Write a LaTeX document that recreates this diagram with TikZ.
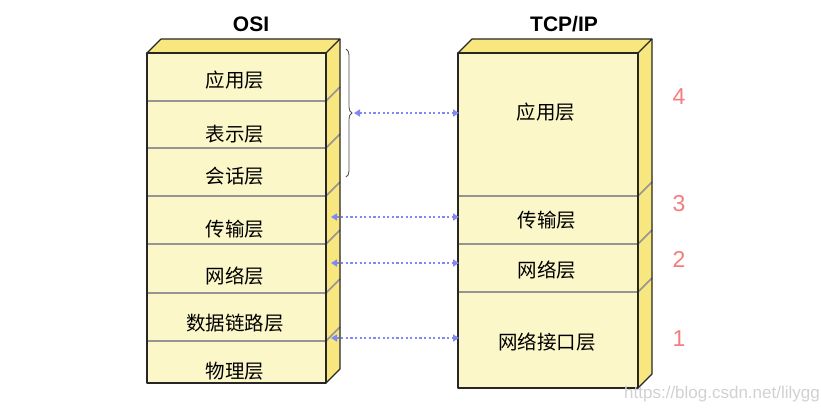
\documentclass[tikz,border=0pt]{standalone}
\usepackage{fontspec}
\setmainfont{Liberation Sans}
\newfontfamily\cjk{Noto Sans CJK SC}
\usetikzlibrary{positioning}
\usetikzlibrary{decorations.pathreplacing}
\usetikzlibrary{arrows.meta}
\usepackage{xcolor}

\definecolor{frontyel}{HTML}{FBF7C9}
\definecolor{sideyel}{HTML}{F8E77F}
\definecolor{divgray}{HTML}{959595}
\definecolor{linkblue}{HTML}{7F88F4}
\definecolor{numred}{HTML}{F47C7C}

\tikzset{
  face/.style={draw=black!85, line width=1.1pt, line join=round},
  divider/.style={draw=divgray, line width=1.6pt},
  layer/.style={font=\cjk\fontsize{19.5}{19.5}\selectfont, inner sep=0pt},
  title/.style={font=\bfseries\fontsize{21}{21}\selectfont, inner sep=0pt},
  num/.style={font=\fontsize{23}{23}\selectfont, text=numred, inner sep=0pt},
  link/.style={draw=linkblue, line width=2.2pt, dash pattern=on 2.2pt off 2.4pt, {Triangle[length=6pt,width=7pt]}-{Triangle[length=6pt,width=7pt]}}
}

\begin{document}
\begin{tikzpicture}[x=1pt,y=-1pt]
\useasboundingbox (0,0) rectangle (821,412);

% OSI stack
\begin{scope}
\fill[frontyel] (147,53) rectangle (326,383);
\fill[sideyel] (147,53)--(161,39)--(340,39)--(326,53)--cycle;
\fill[sideyel] (326,53)--(340,39)--(340,369)--(326,383)--cycle;
\foreach \yy in {101,148,196,244,293,341}{
  \draw[divider] (147,\yy)--(326,\yy)--(340,\yy-14);
}
\draw[face] (147,53) rectangle (326,383);
\draw[face] (147,53)--(161,39)--(340,39)--(326,53);
\draw[face] (340,39)--(340,369)--(326,383);

\node[title] (osi) at (251,24) {OSI};
\node[layer] (osiapp) at (235,80) {应用层};
\node[layer] (osipre) at (235,134) {表示层};
\node[layer] (osises) at (235,176) {会话层};
\node[layer] (ositra) at (235,229) {传输层};
\node[layer] (osinet) at (235,276) {网络层};
\node[layer] (osidat) at (235,323) {数据链路层};
\node[layer] (osiphy) at (235,371) {物理层};
\end{scope}

% TCP/IP stack
\begin{scope}
\fill[frontyel] (458,53) rectangle (638,388);
\fill[sideyel] (458,53)--(472,39)--(652,39)--(638,53)--cycle;
\fill[sideyel] (638,53)--(652,39)--(652,374)--(638,388)--cycle;
\foreach \yy in {196,244,292}{
  \draw[divider] (458,\yy)--(638,\yy)--(652,\yy-14);
}
\draw[face] (458,53) rectangle (638,388);
\draw[face] (458,53)--(472,39)--(652,39)--(638,53);
\draw[face] (652,39)--(652,374)--(638,388);

\node[title] (tcp) at (564,24) {TCP/IP};
\node[layer] (tcpapp) at (546,112) {应用层};
\node[layer] (tcptra) at (547,220) {传输层};
\node[layer] (tcpnet) at (547,270) {网络层};
\node[layer] (tcpif) at (547,342) {网络接口层};

\node[num] (n4) at (679,97) {4};
\node[num] (n3) at (679,204) {3};
\node[num] (n2) at (679,259) {2};
\node[num] (n1) at (679,339) {1};
\end{scope}

% brace and links
\draw[black!70, line width=0.8pt, decorate, decoration={brace, amplitude=6pt}] (346,49) -- (346,177);
\coordinate (bracetip) at (354,113);
\coordinate (append) at (459,113);
\coordinate (trafrom) at (331,217);
\coordinate (traend) at (459,217);
\coordinate (netfrom) at (331,263);
\coordinate (netend) at (459,263);
\coordinate (datfrom) at (331,338);
\coordinate (datend) at (459,338);
\draw[link] (bracetip) -- (append);
\draw[link] (trafrom) -- (traend);
\draw[link] (netfrom) -- (netend);
\draw[link] (datfrom) -- (datend);

\node[text=black!18, font=\fontsize{17}{17}\selectfont, inner sep=0pt] (mark) at (722,394) {https://blog.csdn.net/lilygg};
\end{tikzpicture}
\end{document}
